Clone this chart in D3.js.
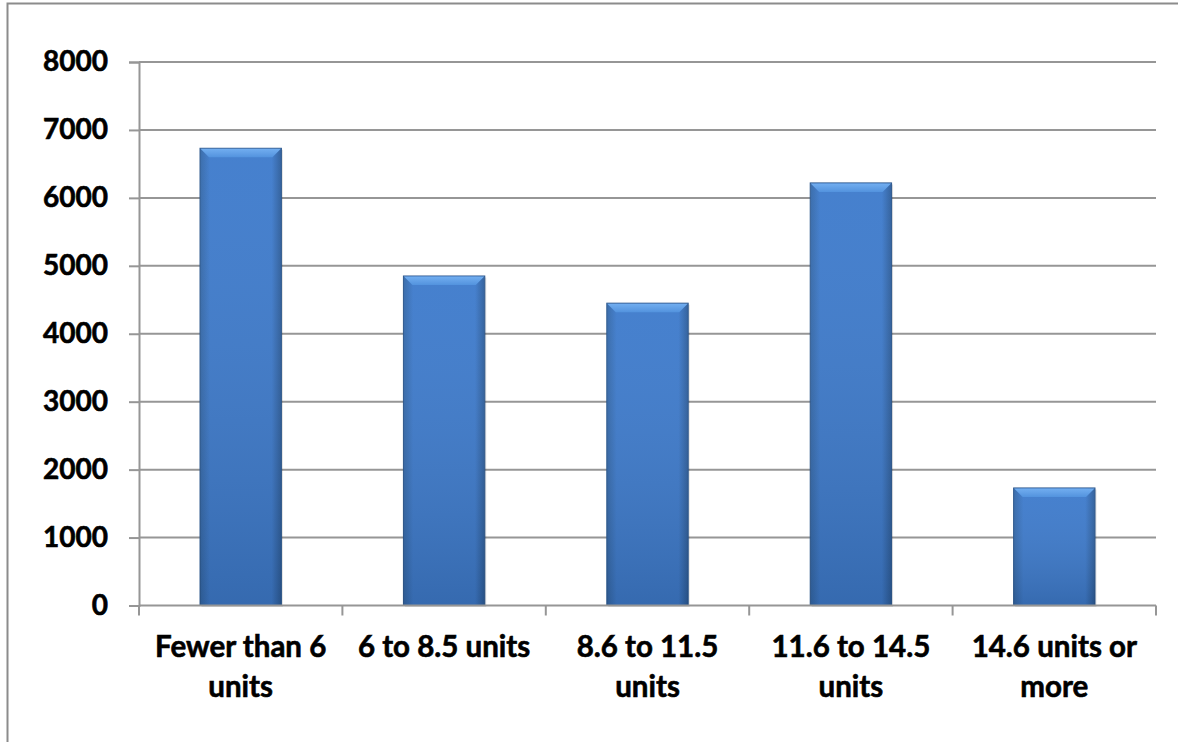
<!DOCTYPE html>
<html lang="en">
<head>
<meta charset="UTF-8">
<title>Units bar chart</title>
<script src="https://cdn.jsdelivr.net/npm/d3@7"></script>
<style>
  body { margin: 0; background: #fff; overflow: hidden; }
  svg { display: block; }
</style>
</head>
<body>
<svg width="1178" height="742"></svg>
<script>
const categories = [["Fewer than 6", "units"], ["6 to 8.5 units"], ["8.6 to 11.5", "units"], ["11.6 to 14.5", "units"], ["14.6 units or", "more"]];
const values = [6730, 4850, 4450, 6220, 1730];
const yTicks = [0, 1000, 2000, 3000, 4000, 5000, 6000, 7000, 8000];

const svg = d3.select("svg");
const margin = {top: 62, right: 22, bottom: 136.5, left: 139};
const width = 1178 - margin.left - margin.right;
const height = 742 - margin.top - margin.bottom;
const font = "Lato, 'Open Sans', sans-serif";

// outer frame, only the left and top edges are in view
svg.append("path")
    .attr("d", "M7.5,760 L7.5,3.5 L1190,3.5")
    .attr("fill", "none").attr("stroke", "#8c8c8c").attr("stroke-width", 2);

const defs = svg.append("defs");
const side = defs.append("linearGradient").attr("id", "side");
side.append("stop").attr("offset", "0%").attr("stop-color", "#3468a8");
side.append("stop").attr("offset", "12%").attr("stop-color", "#3e7bcc");
side.append("stop").attr("offset", "88%").attr("stop-color", "#3e7bcc");
side.append("stop").attr("offset", "100%").attr("stop-color", "#2d5d9a");
const down = defs.append("linearGradient").attr("id", "down")
    .attr("x1", 0).attr("y1", 0).attr("x2", 0).attr("y2", 1);
down.append("stop").attr("offset", "0%").attr("stop-color", "#ffffff").attr("stop-opacity", 0.04);
down.append("stop").attr("offset", "100%").attr("stop-color", "#000000").attr("stop-opacity", 0.14);
const bevel = defs.append("linearGradient").attr("id", "bevel")
    .attr("x1", 0).attr("y1", 0).attr("x2", 0).attr("y2", 1);
bevel.append("stop").attr("offset", "0%").attr("stop-color", "#72aef0");
bevel.append("stop").attr("offset", "100%").attr("stop-color", "#5393de");

const g = svg.append("g")
    .attr("transform", "translate(" + margin.left + "," + margin.top + ")");

const x = d3.scaleBand()
    .domain(d3.range(values.length))
    .range([0, width])
    .paddingInner(0.6)
    .paddingOuter(0.3);

const y = d3.scaleLinear()
    .domain([0, 8000])
    .range([height, 0]);

// gridlines
g.append("g")
    .selectAll("line")
    .data(yTicks.slice(1))
    .join("line")
    .attr("x1", 0).attr("x2", width)
    .attr("y1", d => y(d)).attr("y2", d => y(d))
    .attr("stroke", "#969696").attr("stroke-width", 2);

// y axis
const yAxis = g.append("g")
    .call(d3.axisLeft(y).tickValues(yTicks).tickFormat(d3.format("d")).tickSize(10).tickPadding(21));
yAxis.select(".domain").attr("stroke", "#969696").attr("stroke-width", 2);
yAxis.selectAll(".tick line").attr("stroke", "#969696").attr("stroke-width", 2);
yAxis.selectAll("text")
    .attr("font-family", font).attr("font-weight", "bold")
    .attr("font-size", "28px").attr("fill", "#000")
    .attr("stroke", "#000").attr("stroke-width", 0.6);

// bars
const bars = g.append("g").selectAll("g")
    .data(values)
    .join("g")
    .attr("transform", (d, i) => "translate(" + x(i) + "," + y(d) + ")");

const bw = x.bandwidth();
const bev = 9;
bars.append("rect")
    .attr("x", 1.5).attr("y", 1.5)
    .attr("width", bw).attr("height", d => height - y(d))
    .attr("fill", "#000").attr("opacity", 0.12);
bars.append("rect")
    .attr("width", bw).attr("height", d => height - y(d))
    .attr("fill", "url(#side)")
    .attr("stroke", "#2a558b").attr("stroke-width", 1);
bars.append("rect")
    .attr("width", bw).attr("height", d => height - y(d))
    .attr("fill", "url(#down)");
bars.append("path")
    .attr("d", "M0.5,0.5 L" + (bw - 0.5) + ",0.5 L" + (bw - bev) + "," + bev + " L" + bev + "," + bev + " Z")
    .attr("fill", "url(#bevel)");

// x axis
const xAxis = g.append("g")
    .attr("transform", "translate(0," + height + ")");
xAxis.append("line")
    .attr("x1", 0).attr("x2", width)
    .attr("stroke", "#969696").attr("stroke-width", 2);
xAxis.selectAll(".sep")
    .data(d3.range(values.length + 1))
    .join("line")
    .attr("class", "sep")
    .attr("x1", i => i * x.step()).attr("x2", i => i * x.step())
    .attr("y1", 0).attr("y2", 10)
    .attr("stroke", "#969696").attr("stroke-width", 2);

const labels = xAxis.selectAll(".lab")
    .data(categories)
    .join("text")
    .attr("class", "lab")
    .attr("text-anchor", "middle")
    .attr("font-family", font).attr("font-weight", "bold")
    .attr("font-size", "29.5px").attr("fill", "#000")
    .attr("stroke", "#000").attr("stroke-width", 0.6)
    .attr("transform", (d, i) => "translate(" + (x(i) + bw / 2) + ",51)");
labels.selectAll("tspan")
    .data(d => d)
    .join("tspan")
    .attr("x", 0)
    .attr("dy", (d, i) => i === 0 ? 0 : 40)
    .text(d => d);
</script>
</body>
</html>
